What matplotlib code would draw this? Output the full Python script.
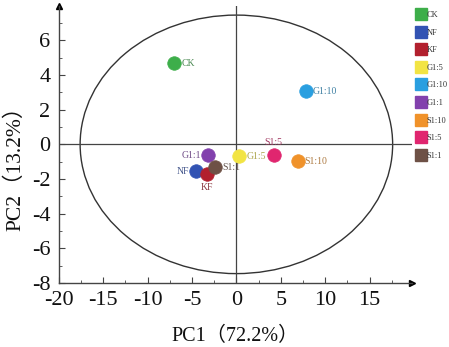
import numpy as np
import matplotlib
matplotlib.use("Agg")
import matplotlib.pyplot as plt
from matplotlib.patches import Ellipse
from matplotlib.lines import Line2D
from matplotlib.colors import to_rgb

plt.rcParams['font.family'] = ['Liberation Serif', 'Noto Sans CJK SC']
plt.rcParams['axes.unicode_minus'] = False

# PCA scores of each treatment
groups = ['CK', 'NF', 'KF', 'G1:5', 'G1:10', 'G1:1', 'S1:10', 'S1:5', 'S1:1']
pc1 = [-7.0, -4.5, -3.3, 0.35, 7.8, -3.2, 6.9, 4.2, -2.4]
pc2 = [4.68, -1.56, -1.73, -0.69, 3.06, -0.64, -0.98, -0.64, -1.33]
colors = ['#3dae4a', '#3253b3', '#b2202e', '#f2e443', '#2a9fe0',
          '#8241ad', '#f0922a', '#e0266f', '#6e5146']

# where each point's name sits relative to the point (offset in points, ha, va)
label_pos = {
    'CK': (5, 0, 'left', 'center'),
    'NF': (-5, 0, 'right', 'center'),
    'KF': (0, -6, 'center', 'top'),
    'G1:5': (5, 0, 'left', 'center'),
    'G1:10': (5, 0, 'left', 'center'),
    'G1:1': (-5, 0, 'right', 'center'),
    'S1:10': (5, 0, 'left', 'center'),
    'S1:5': (0, 6, 'center', 'bottom'),
    'S1:1': (5, 0, 'left', 'center'),
}

x_ticks = [-20, -15, -10, -5, 0, 5, 10, 15]
y_ticks = [-8, -6, -4, -2, 0, 2, 4, 6]

fig = plt.figure(figsize=(4.49, 3.47), dpi=100)
ax = fig.add_axes([0.131, 0.184, 0.787, 0.80])
ax.set_xlim(-20, 19.8)
ax.set_ylim(-8, 8.0)

axis_col = '#444444'
for s in ['top', 'right']:
    ax.spines[s].set_visible(False)
for s in ['left', 'bottom']:
    ax.spines[s].set_color(axis_col)
    ax.spines[s].set_linewidth(1.0)

# arrow heads on the axes
ax.plot(1, 0, '>', color='black', ms=5, transform=ax.transAxes, clip_on=False)
ax.plot(0, 1, '^', color='black', ms=5, transform=ax.transAxes, clip_on=False)

ax.set_xticks(x_ticks)
ax.set_yticks(y_ticks)
ax.set_xticks(np.arange(-17.5, 19, 5), minor=True)
ax.set_yticks(np.arange(-7, 8, 2), minor=True)
ax.tick_params(axis='both', which='both', direction='in', colors=axis_col,
               labelcolor='#111111', labelsize=16)
ax.tick_params(which='major', length=4)
ax.tick_params(which='minor', length=2.5)
ax.tick_params(axis='x', which='major', pad=6)
ax.tick_params(axis='y', which='major', pad=6)

# reference lines through the origin and the confidence ellipse
ax.plot([-20, 19.7], [0, 0], color=axis_col, lw=0.9)
ax.plot([0, 0], [-8, 8.0], color=axis_col, lw=0.9)
ax.add_patch(Ellipse((0, 0), 2 * 17.6, 2 * 7.45, fill=False,
                     edgecolor='#333333', lw=1.0))

for g, x, y, c in zip(groups, pc1, pc2, colors):
    ax.scatter(x, y, s=95, color=c, edgecolors=c, linewidths=0.5, zorder=3)
    dx, dy, ha, va = label_pos[g]
    rgb = np.array(to_rgb(c))
    txt_col = rgb * 0.55 + np.array([0.35, 0.35, 0.35]) * 0.45
    ax.annotate(g, (x, y), xytext=(dx, dy), textcoords='offset points',
                ha=ha, va=va, fontsize=7, color=txt_col, zorder=4)

ax.set_xlabel('PC1（72.2%）', fontsize=14.5, color='#111111')
ax.set_ylabel('PC2（13.2%）', fontsize=15.5, color='#111111')
ax.xaxis.set_label_coords(0.5, -0.158)
ax.yaxis.set_label_coords(-0.095, 0.433)

handles = [Line2D([], [], linestyle='none', marker='s', markersize=8.2,
                  markerfacecolor=c, markeredgecolor=c) for c in colors]
fig.legend(handles, groups, loc='upper left', bbox_to_anchor=(0.924, 0.973),
           frameon=False, fontsize=6, handlelength=1.0, handletextpad=0.2,
           labelspacing=1.15, borderpad=0.2, borderaxespad=0.0,
           labelcolor='#333333')

fig.savefig('out.png', dpi=100)
